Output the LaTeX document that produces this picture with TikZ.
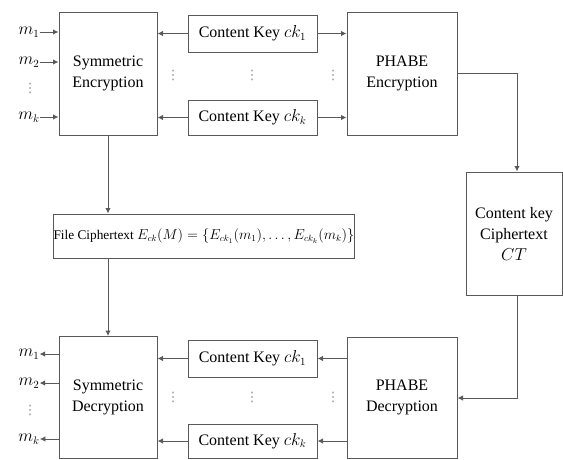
\documentclass[tikz,border=0pt]{standalone}
\usepackage{fontspec}
\setmainfont{Liberation Serif}
\newfontfamily\dotfont{DejaVu Sans}
\usepackage{tikz}
\usetikzlibrary{arrows.meta}
\tikzset{>={Latex[width=5.5pt,length=5.5pt]}}
\tikzset{
  blk/.style={draw=black!65, line width=1pt, fill=white, align=center, inner sep=0pt,
    font=\fontsize{16}{21}\selectfont},
  wire/.style={draw=black!65, line width=1pt},
  vdot/.style={text=black!45, font=\dotfont\fontsize{13}{13}\selectfont, inner sep=0pt},
  mlabel/.style={font=\fontsize{16}{16}\selectfont, inner sep=0pt},
}

\begin{document}
\begin{tikzpicture}[x=1pt,y=-1pt]
  \useasboundingbox (0,0) rectangle (563,459);

  % encryption side
  \node[blk, minimum width=98pt, minimum height=123pt] (senc) at (108,73.5) {Symmetric\\Encryption};
  \node[blk, minimum width=110pt, minimum height=123pt] (penc) at (402,73.5) {PHABE\\Encryption};
  \node[blk, minimum width=129pt, minimum height=37pt] (keyAe) at (252.5,33.5) {Content Key $ck_1$};
  \node[blk, minimum width=129pt, minimum height=35pt] (keyKe) at (252.5,117.5) {Content Key $ck_k$};

  \node[mlabel] (mAe) at (29,32) {$m_1$};
  \node[mlabel] (mBe) at (29,62) {$m_2$};
  \node[mlabel] (mKe) at (29,117) {$m_k$};

  \draw[wire,->] (mAe.east) -- (mAe.east -| senc.west);
  \draw[wire,->] (mBe.east) -- (mBe.east -| senc.west);
  \draw[wire,->] (mKe.east) -- (mKe.east -| senc.west);

  \draw[wire,->] (keyAe.west) -- (keyAe.west -| senc.east);
  \draw[wire,->] (keyAe.east) -- (keyAe.east -| penc.west);
  \draw[wire,->] (keyKe.west) -- (keyKe.west -| senc.east);
  \draw[wire,->] (keyKe.east) -- (keyKe.east -| penc.west);

  \node[vdot] (dotme) at (30,88) {⋮};
  \node[vdot] (dotAe) at (173,75) {⋮};
  \node[vdot] (dotBe) at (252,75) {⋮};
  \node[vdot] (dotCe) at (333,75) {⋮};

  % ciphertexts
  \node[blk, minimum width=288pt, minimum height=44pt, font=\fontsize{13.3}{16}\selectfont] (file) at (204,236)
    {File Ciphertext $E_{ck}(M)=\left\{E_{ck_1}(m_1),\ldots,E_{ck_k}(m_k)\right\}$};
  \node[blk, minimum width=96pt, minimum height=123pt] (ct) at (514,233.5) {Content key\\Ciphertext\\$CT$};

  \coordinate (turnA) at (517,73.5);
  \coordinate (turnB) at (517,398);
  \draw[wire,->] (penc.east |- turnA) -- (turnA) -- (turnA |- ct.north);
  \draw[wire,->] (turnA |- ct.south) -- (turnB) -- (turnB -| penc.east);

  \draw[wire,->] (senc.south) -- (senc.south |- file.north);
  \draw[wire,->] (senc.south |- file.south) -- (senc.south |- 0,336);

  % decryption side
  \node[blk, minimum width=98pt, minimum height=122pt] (sdec) at (108,397) {Symmetric\\Decryption};
  \node[blk, minimum width=110pt, minimum height=121pt] (pdec) at (402,397.5) {PHABE\\Decryption};
  \node[blk, minimum width=129pt, minimum height=37pt] (keyAd) at (252.5,358.5) {Content Key $ck_1$};
  \node[blk, minimum width=129pt, minimum height=34pt] (keyKd) at (252.5,441) {Content Key $ck_k$};

  \node[mlabel] (mAd) at (29,354) {$m_1$};
  \node[mlabel] (mBd) at (29,383) {$m_2$};
  \node[mlabel] (mKd) at (29,439) {$m_k$};

  \draw[wire,->] (mAd.east -| sdec.west) -- (mAd.east);
  \draw[wire,->] (mBd.east -| sdec.west) -- (mBd.east);
  \draw[wire,->] (mKd.east -| sdec.west) -- (mKd.east);

  \draw[wire,->] (keyAd.east -| pdec.west) -- (keyAd.east);
  \draw[wire,->] (keyAd.west) -- (keyAd.west -| sdec.east);
  \draw[wire,->] (keyKd.east -| pdec.west) -- (keyKd.east);
  \draw[wire,->] (keyKd.west) -- (keyKd.west -| sdec.east);

  \node[vdot] (dotmd) at (30,410) {⋮};
  \node[vdot] (dotAd) at (173,397) {⋮};
  \node[vdot] (dotBd) at (252,397) {⋮};
  \node[vdot] (dotCd) at (333,397) {⋮};

\end{tikzpicture}
\end{document}
